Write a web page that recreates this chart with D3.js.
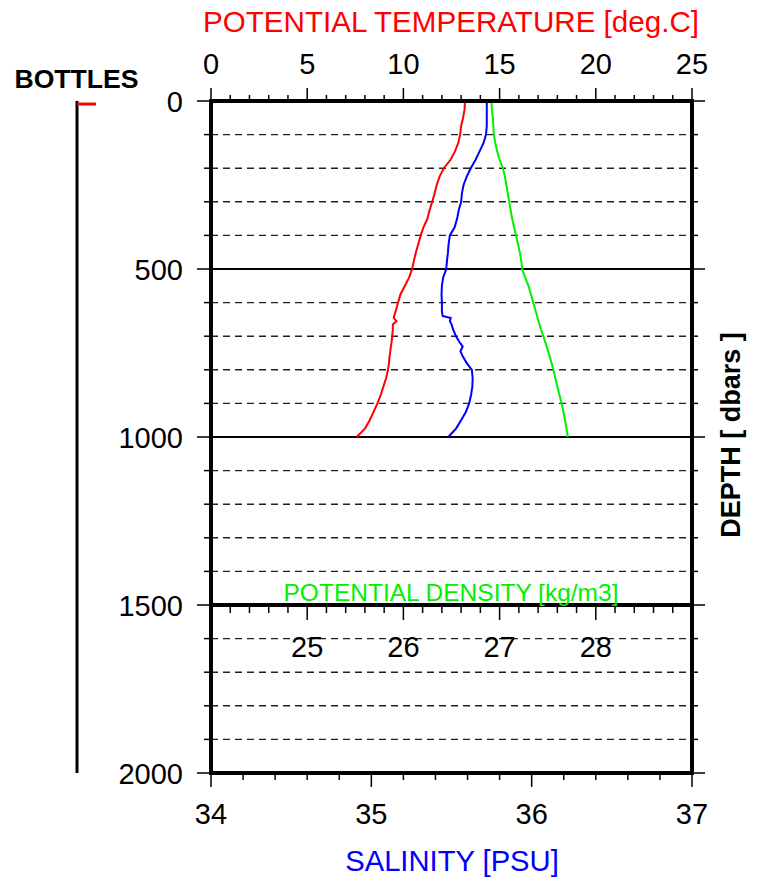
<!DOCTYPE html>
<html>
<head>
<meta charset="utf-8">
<script src="https://cdn.jsdelivr.net/npm/d3@7"></script>
<style>
  html, body { margin: 0; padding: 0; background: #fff; }
  svg { display: block; font-family: "Liberation Sans", Arial, Helvetica, sans-serif; }
</style>
</head>
<body>
<svg id="chart" width="762" height="879"></svg>
<script>
// ---------- data ----------
const depths = [0,25,50,75,100,125,150,175,200,225,250,275,300,325,350,375,400,425,450,475,500,525,550,575,600,625,640,646,655,665,680,700,720,730,745,760,780,800,825,850,875,900,925,950,975,1000];
const temperature = [13.20,13.18,13.10,13.00,12.95,12.85,12.68,12.45,12.10,11.88,11.73,11.62,11.50,11.36,11.25,11.05,10.90,10.78,10.65,10.55,10.45,10.30,10.08,9.85,9.72,9.60,9.52,9.50,9.64,9.45,9.45,9.42,9.38,9.35,9.32,9.28,9.25,9.20,9.10,8.96,8.82,8.65,8.45,8.25,8.00,7.57];
const salinity = [35.720,35.720,35.720,35.720,35.715,35.700,35.675,35.650,35.620,35.595,35.575,35.565,35.560,35.545,35.535,35.520,35.490,35.482,35.478,35.472,35.467,35.448,35.440,35.438,35.440,35.440,35.445,35.495,35.490,35.500,35.510,35.528,35.553,35.570,35.556,35.570,35.595,35.627,35.632,35.630,35.622,35.610,35.590,35.560,35.528,35.480];
const density = [26.915,26.920,26.930,26.935,26.940,26.955,26.975,27.000,27.035,27.055,27.070,27.085,27.100,27.115,27.130,27.150,27.170,27.190,27.210,27.225,27.235,27.265,27.300,27.325,27.350,27.375,27.390,27.395,27.405,27.415,27.430,27.455,27.477,27.488,27.505,27.520,27.540,27.560,27.580,27.600,27.622,27.645,27.663,27.680,27.695,27.710];
const bottles = [9];

const tempTicks = [0,5,10,15,20,25];
const salTicks = [34,35,36,37];
const densTicks = [25,26,27,28];
const depthTicks = [0,500,1000,1500,2000];

// ---------- layout ----------
const L = 211, R = 692, T = 101, B = 773;
const svg = d3.select("#chart");

const y = d3.scaleLinear().domain([0, 2000]).range([T, B]);
const xT = d3.scaleLinear().domain([0, 25]).range([L, R]);
const xS = d3.scaleLinear().domain([34, 37]).range([L, R]);
const xD = d3.scaleLinear().domain([24, 29]).range([L, R]);

// grid lines
const minorDepth = d3.range(100, 2000, 100).filter(d => d % 500 !== 0);
svg.append("g").selectAll("line").data(minorDepth).join("line")
  .attr("x1", L).attr("x2", R).attr("y1", d => y(d)).attr("y2", d => y(d))
  .attr("stroke", "#222").attr("stroke-width", 1.4).attr("stroke-dasharray", "7,5");
svg.append("g").selectAll("line").data([500, 1000]).join("line")
  .attr("x1", L).attr("x2", R).attr("y1", d => y(d)).attr("y2", d => y(d))
  .attr("stroke", "#000").attr("stroke-width", 2);

// profiles
const rows = depths.map((d, i) => ({d, t: temperature[i], s: salinity[i], r: density[i]}));
const mk = (xs, key) => d3.line().x(o => xs(o[key])).y(o => y(o.d));
svg.append("path").datum(rows).attr("d", mk(xT, "t")).attr("fill", "none").attr("stroke", "#ff0000").attr("stroke-width", 2);
svg.append("path").datum(rows).attr("d", mk(xS, "s")).attr("fill", "none").attr("stroke", "#0000ff").attr("stroke-width", 2);
svg.append("path").datum(rows).attr("d", mk(xD, "r")).attr("fill", "none").attr("stroke", "#00f000").attr("stroke-width", 2);

// ticks helper
function ticks(g, arr, f) {
  g.selectAll(null).data(arr).join("line").each(function(v){ const a = f(v); d3.select(this).attr("x1",a[0]).attr("y1",a[1]).attr("x2",a[2]).attr("y2",a[3]); })
   .attr("stroke", "#000").attr("stroke-width", 1.5);
}
const tg = svg.append("g");
ticks(tg, d3.range(0, 26, 1), v => { const x = xT(v); const len = v % 5 === 0 ? 13 : 6; return [x, T, x, T - len]; });
ticks(tg, d3.range(0, 2001, 100), v => { const len = v % 500 === 0 ? 14 : 7; return [L - len, y(v), L, y(v)]; });
ticks(tg, d3.range(0, 2001, 100), v => { const len = v % 500 === 0 ? 13 : 6; return [R, y(v), R + len, y(v)]; });
ticks(tg, d3.range(0, 26).map(i => 24 + i * 0.2), v => { const maj = Math.abs(v - Math.round(v)) < 1e-6; return [xD(v), y(1500), xD(v), y(1500) + (maj ? 15 : 8)]; });
ticks(tg, d3.range(0, 16).map(i => 34 + i * 0.2), v => { const maj = Math.abs(v - Math.round(v)) < 1e-6; return [xS(v), B, xS(v), B + (maj ? 14 : 7)]; });

// frame
const fr = svg.append("g").attr("stroke", "#000").attr("stroke-width", 4).attr("stroke-linecap", "square");
fr.append("line").attr("x1", L).attr("x2", R).attr("y1", T).attr("y2", T);
fr.append("line").attr("x1", L).attr("x2", R).attr("y1", B).attr("y2", B);
fr.append("line").attr("x1", L).attr("x2", R).attr("y1", y(1500)).attr("y2", y(1500));
fr.append("line").attr("x1", L).attr("x2", L).attr("y1", T).attr("y2", B);
fr.append("line").attr("x1", R).attr("x2", R).attr("y1", T).attr("y2", B);

// tick labels
const fs = 29;
svg.append("g").selectAll("text").data(tempTicks).join("text")
  .attr("x", d => xT(d)).attr("y", 74).attr("text-anchor", "middle").attr("font-size", fs).text(d => d);
svg.append("g").selectAll("text").data(depthTicks).join("text")
  .attr("x", 183).attr("y", d => y(d) + 10.5).attr("text-anchor", "end").attr("font-size", fs).text(d => d);
svg.append("g").selectAll("text").data(salTicks).join("text")
  .attr("x", d => xS(d)).attr("y", 824).attr("text-anchor", "middle").attr("font-size", fs).text(d => d);
svg.append("g").selectAll("text").data(densTicks).join("text")
  .attr("x", d => xD(d)).attr("y", 657).attr("text-anchor", "middle").attr("font-size", fs).text(d => d);

// titles
svg.append("text").attr("x", 451).attr("y", 32).attr("text-anchor", "middle").attr("font-size", 29.6)
  .attr("fill", "#ff0000").text("POTENTIAL TEMPERATURE [deg.C]");
svg.append("text").attr("x", 452).attr("y", 871).attr("text-anchor", "middle").attr("font-size", 29.2)
  .attr("fill", "#0000ff").text("SALINITY [PSU]");
svg.append("text").attr("x", 451).attr("y", 601).attr("text-anchor", "middle").attr("font-size", 24.5)
  .attr("fill", "#00f000").text("POTENTIAL DENSITY [kg/m3]");
svg.append("text").attr("transform", "translate(740,435) rotate(-90)").attr("text-anchor", "middle")
  .attr("font-size", 27).attr("font-weight", "bold").text("DEPTH [ dbars ]");
svg.append("text").attr("x", 76.5).attr("y", 88).attr("text-anchor", "middle")
  .attr("font-size", 26.6).attr("font-weight", "bold").text("BOTTLES");

// bottles bar
const bx = 77;
svg.append("line").attr("x1", bx).attr("x2", bx).attr("y1", y(0)).attr("y2", y(2000))
  .attr("stroke", "#000").attr("stroke-width", 3);
svg.append("g").selectAll("line").data(bottles).join("line")
  .attr("x1", bx).attr("x2", bx + 19).attr("y1", d => y(d)).attr("y2", d => y(d))
  .attr("stroke", "#ff0000").attr("stroke-width", 3);
</script>
</body>
</html>
